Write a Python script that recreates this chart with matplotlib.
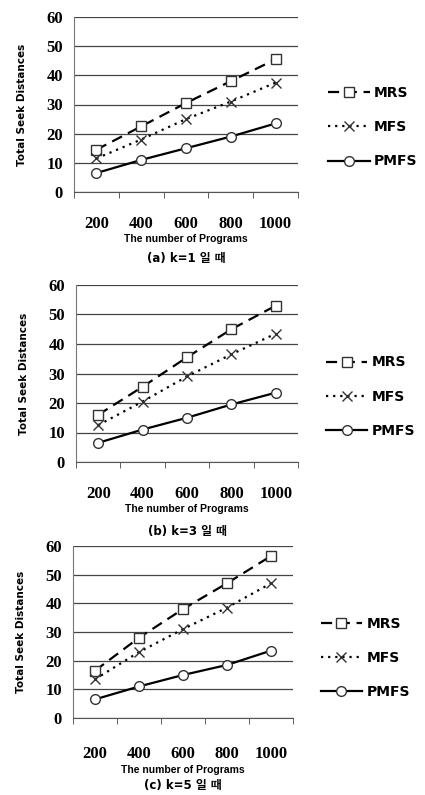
import numpy as np
import matplotlib
matplotlib.use('Agg')
import matplotlib.pyplot as plt

programs = ['200', '400', '600', '800', '1000']
series_names = ['MRS', 'MFS', 'PMFS']

# values for k=1, k=3, k=5
mrs_k1 = [14.5, 22.5, 30.5, 38, 45.5]
mfs_k1 = [11.5, 18, 25, 31, 37.5]
pmfs_k1 = [6.5, 11, 15, 19, 23.5]

mrs_k3 = [16, 25.5, 35.5, 45, 53]
mfs_k3 = [12.5, 20.5, 29, 36.5, 43.5]
pmfs_k3 = [6.5, 11, 15, 19.5, 23.5]

mrs_k5 = [16.5, 28, 38, 47, 56.5]
mfs_k5 = [13.5, 23, 31, 38.5, 47]
pmfs_k5 = [6.5, 11, 15, 18.5, 23.5]

captions = ['(a) k=1 일 때', '(b) k=3 일 때', '(c) k=5 일 때']
panels = [(mrs_k1, mfs_k1, pmfs_k1), (mrs_k3, mfs_k3, pmfs_k3), (mrs_k5, mfs_k5, pmfs_k5)]

# axes boxes in pixels: left, right, top, bottom
boxes = [(74, 298, 17, 192), (76, 298, 285, 462), (73, 293, 546, 718)]
label_pad = [17, 17, 20]
xlabel_y = [239, 509, 770]
caption_y = [259, 531, 785]
legend_y = [0.37, 0.37, 0.35]
legend_x = [1.11, 1.10, 1.10]

W, H = 425, 795
fig = plt.figure(figsize=(W / 100, H / 100), dpi=100)

styles = [dict(ls=(0, (5, 3)), marker='s', ms=7),
          dict(ls=(0, (1, 2.2)), marker='x', ms=7),
          dict(ls='-', marker='o', ms=7)]

for i, (vals, box) in enumerate(zip(panels, boxes)):
    l, r, t, b = box
    ax = fig.add_axes([l / W, 1 - b / H, (r - l) / W, (b - t) / H])
    x = np.arange(len(programs))
    handles = []
    for name, v, st in zip(series_names, vals, styles):
        h, = ax.plot(x, v, color='black', lw=1.6, linestyle=st['ls'],
                     marker=st['marker'], ms=st['ms'], mfc='white',
                     mec='#333333', mew=1.0, label=name)
        handles.append(h)
    ax.set_xlim(-0.5, 4.5)
    ax.set_ylim(0, 60)
    ax.set_yticks(range(0, 61, 10))
    ax.set_xticks(x)
    ax.set_xticklabels(programs)
    ax.set_xticks(np.arange(-0.5, 5, 1), minor=True)
    ax.tick_params(axis='x', which='major', length=0, pad=label_pad[i])
    ax.tick_params(axis='x', which='minor', length=4, direction='out', color='#444444')
    ax.tick_params(axis='y', length=0, pad=8)
    for lab in ax.get_xticklabels() + ax.get_yticklabels():
        lab.set_fontfamily('Liberation Serif')
        lab.set_fontweight('bold')
        lab.set_fontsize(12)
    ax.grid(axis='y', color='#444444', lw=0.9)
    ax.set_axisbelow(True)
    for s in ['top', 'right']:
        ax.spines[s].set_visible(False)
    ax.spines['left'].set_color('#777777')
    ax.spines['bottom'].set_color('#555555')
    ax.set_ylabel('Total Seek Distances', fontsize=7.5, fontweight='bold', labelpad=14)
    fig.text((l + r) / 2 / W, 1 - xlabel_y[i] / H, 'The number of Programs',
             ha='center', va='center', fontsize=7.5, fontweight='bold',
             family='Liberation Sans')
    fig.text((l + r) / 2 / W, 1 - caption_y[i] / H, captions[i],
             ha='center', va='center', fontsize=8.5, fontweight='bold',
             family=['DejaVu Sans', 'Noto Sans CJK KR'])
    ax.legend(handles=handles, loc='center left', bbox_to_anchor=(legend_x[i], legend_y[i]),
              frameon=False, handlelength=3.0, handletextpad=0.3, borderaxespad=0,
              labelspacing=1.45, prop=dict(weight='bold', size=10))

fig.savefig('out.png', dpi=100, facecolor='white')
